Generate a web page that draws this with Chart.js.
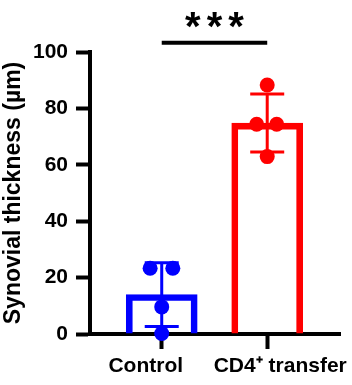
<!DOCTYPE html>
<html>
<head>
<meta charset="utf-8">
<script src="https://cdn.jsdelivr.net/npm/chart.js@4/dist/chart.umd.min.js"></script>
<style>
  html, body { margin: 0; padding: 0; background: #fff; }
  #wrap { width: 352px; height: 385px; }
</style>
</head>
<body>
<div id="wrap"><canvas id="chart"></canvas></div>
<script>
// ---- data ----
const categories = ["Control", "CD4\u207A transfer"];
const means = [14.0, 74.8];
const sds = [11.3, 10.3];
const controlValues = [23.3, 23.3, 9.6, 0.2];
const cd4Values = [88.3, 74.4, 74.4, 62.9];
const controlJitter = [-0.11, 0.105, 0, 0];
const cd4Jitter = [0, -0.1, 0.09, 0];
const yTicks = [0, 20, 40, 60, 80, 100];
const sigLabel = "***";
const sigLevel = 103.3;

const colors = ["#0000FF", "#FF0000"];
const FONT = "'Liberation Sans', Arial, sans-serif";
const labelShift = [-16, 13]; // category labels sit off-centre in the original

const points = [];
controlValues.forEach((v, i) => points.push({ x: 0 + controlJitter[i], y: v, c: colors[0] }));
cd4Values.forEach((v, i) => points.push({ x: 1 + cd4Jitter[i], y: v, c: colors[1] }));

// error bars, category labels and significance bracket, drawn through the scales
const overlay = {
  id: "overlay",
  afterDatasetDraw(chart, args) {
    if (args.index !== 0) return;
    const { ctx, scales: { x, y } } = chart;
    ctx.save();
    ctx.lineWidth = 3;
    means.forEach((m, i) => {
      const cx = x.getPixelForValue(i);
      const top = y.getPixelForValue(m + sds[i]);
      const bot = y.getPixelForValue(m - sds[i]);
      ctx.strokeStyle = colors[i];
      ctx.beginPath();
      ctx.moveTo(cx, top); ctx.lineTo(cx, bot);
      ctx.moveTo(cx - 17, top); ctx.lineTo(cx + 17, top);
      ctx.moveTo(cx - 17, bot); ctx.lineTo(cx + 17, bot);
      ctx.stroke();
    });
    ctx.restore();
  },
  afterDraw(chart) {
    const { ctx, scales: { x, y } } = chart;

    // x category labels
    ctx.save();
    ctx.fillStyle = "#000";
    ctx.font = "bold 21px " + FONT;
    ctx.textAlign = "center";
    ctx.textBaseline = "alphabetic";
    categories.forEach((c, i) => {
      ctx.fillText(c, x.getPixelForValue(i) + labelShift[i], x.top + 38);
    });
    ctx.restore();

    // significance bracket
    const x0 = x.getPixelForValue(0), x1 = x.getPixelForValue(1);
    const yy = y.getPixelForValue(sigLevel);
    ctx.save();
    ctx.strokeStyle = "#000";
    ctx.lineWidth = 4;
    ctx.beginPath();
    ctx.moveTo(x0, yy); ctx.lineTo(x1, yy);
    ctx.stroke();
    ctx.fillStyle = "#000";
    ctx.font = "bold 40px " + FONT;
    ctx.letterSpacing = "6px";
    ctx.textAlign = "center";
    ctx.textBaseline = "alphabetic";
    ctx.fillText(sigLabel, (x0 + x1) / 2 + 3, yy - 3);
    ctx.restore();
  }
};

new Chart(document.getElementById("chart"), {
  type: "bar",
  data: {
    datasets: [
      {
        type: "bar",
        data: means.map((m, i) => ({ x: i, y: m })),
        backgroundColor: "rgba(0,0,0,0)",
        borderColor: colors,
        borderWidth: 6,
        borderSkipped: "start",
        barThickness: 71,
        order: 2
      },
      {
        type: "scatter",
        data: points,
        pointRadius: 7.5,
        pointBackgroundColor: points.map(p => p.c),
        pointBorderWidth: 0,
        clip: false,
        order: 1
      }
    ]
  },
  options: {
    responsive: true,
    maintainAspectRatio: false,
    animation: false,
    events: [],
    layout: { padding: { top: 52, right: 12, left: 0, bottom: 0 } },
    plugins: { legend: { display: false }, tooltip: { enabled: false } },
    scales: {
      x: {
        type: "linear",
        min: -0.68,
        max: 1.69,
        offset: false,
        z: 1,
        afterBuildTicks: s => { s.ticks = [{ value: 0 }, { value: 1 }]; },
        afterFit: s => { s.height = 51; },
        grid: { offset: false, drawOnChartArea: false, drawTicks: true, tickLength: 15, tickWidth: 4, tickColor: "#000" },
        border: { display: true, width: 4, color: "#000" },
        ticks: { display: false }
      },
      y: {
        min: 0,
        max: 100,
        z: 1,
        afterBuildTicks: s => { s.ticks = yTicks.map(v => ({ value: v })); },
        afterFit: s => { s.width = 90; },
        grid: { drawOnChartArea: false, drawTicks: true, tickLength: 14, tickWidth: 4, tickColor: "#000" },
        border: { display: true, width: 4, color: "#000" },
        ticks: {
          color: "#000",
          padding: 8,
          font: { family: FONT, size: 21, weight: "bold" }
        },
        title: {
          display: true,
          text: "Synovial thickness (\u00B5m)",
          color: "#000",
          padding: { top: 0, bottom: 0 },
          font: { family: FONT, size: 23, weight: "bold" }
        }
      }
    }
  },
  plugins: [overlay]
});
</script>
</body>
</html>
